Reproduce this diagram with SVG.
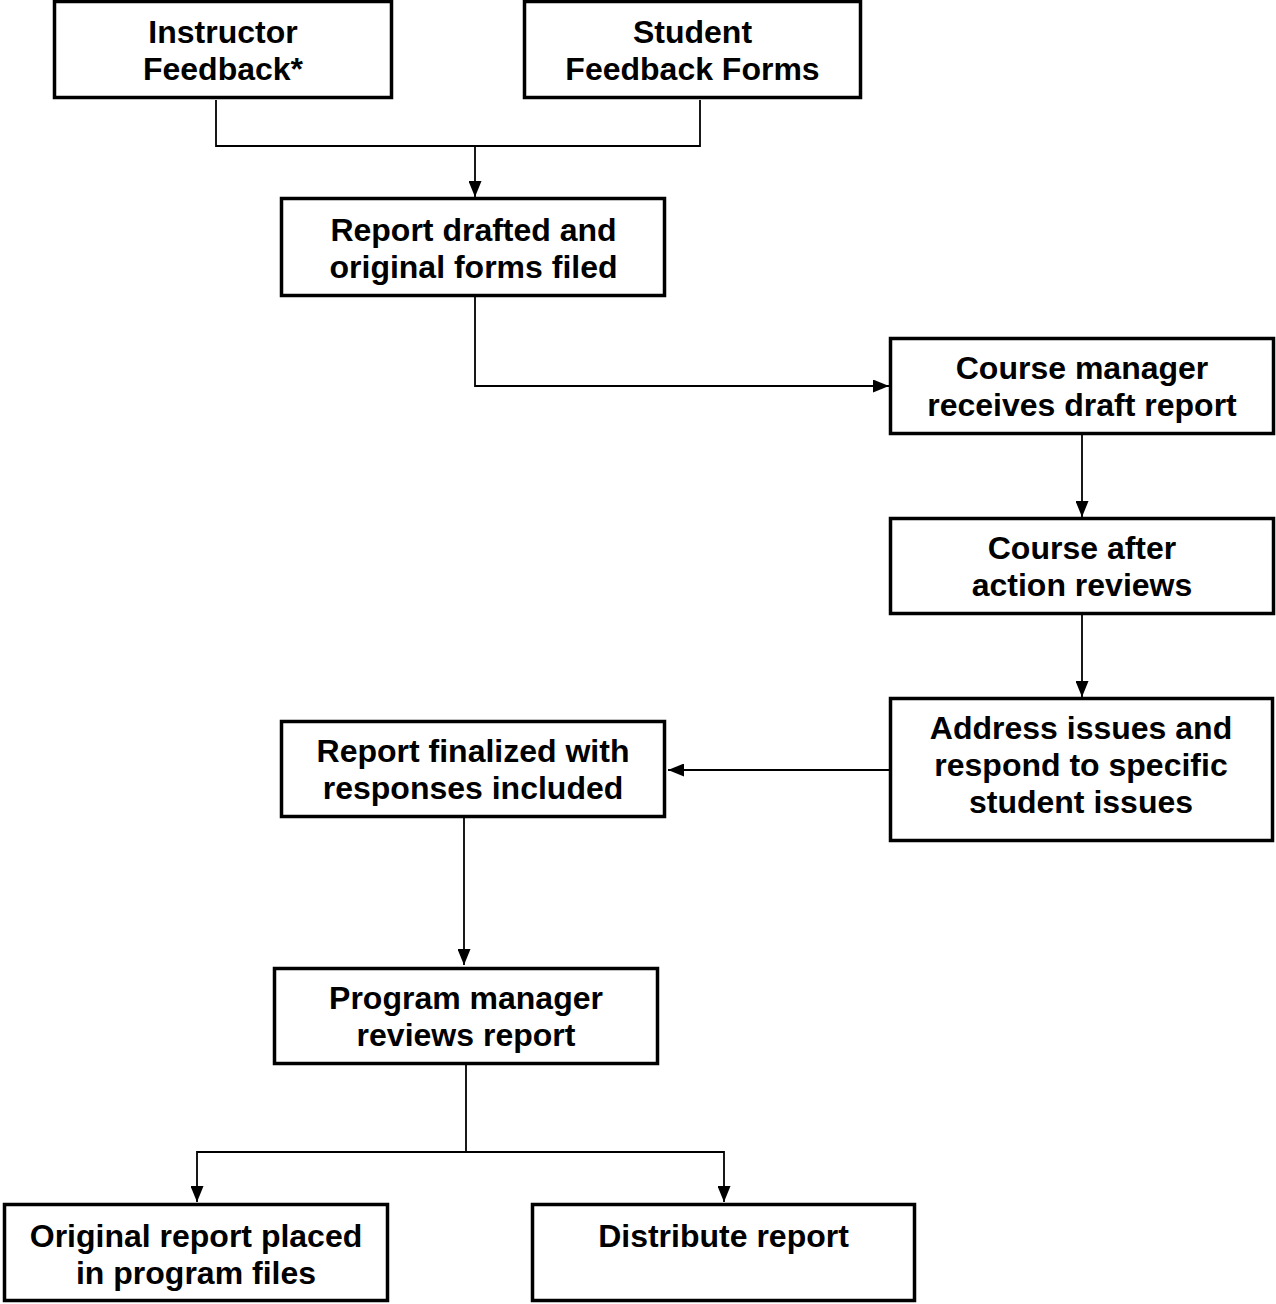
<svg xmlns="http://www.w3.org/2000/svg" width="1276" height="1304" viewBox="0 0 1276 1304">
<style>
.box{fill:#fff;stroke:#000;stroke-width:3.5}
.lbl{font-family:"Liberation Sans",Arial,sans-serif;font-weight:bold;font-size:32px;text-anchor:middle;fill:#000}
.con{fill:none;stroke:#000;stroke-width:1.8}
</style>
<defs>
<marker id="arr" viewBox="0 0 16 13" refX="16" refY="6.5" markerWidth="16" markerHeight="13" markerUnits="userSpaceOnUse" orient="auto">
<path d="M0,0 L16,6.5 L0,13 Z" fill="#000"/>
</marker>
</defs>
<rect width="1276" height="1304" fill="#fff"/>
<g id="connectors">
<path class="con" d="M216,100 V146 H700 V100"/>
<path class="con" d="M475,146 V197" marker-end="url(#arr)"/>
<path class="con" d="M475,297 V386 H889" marker-end="url(#arr)"/>
<path class="con" d="M1082,435 V517" marker-end="url(#arr)"/>
<path class="con" d="M1082,615 V697" marker-end="url(#arr)"/>
<path class="con" d="M889,770 H668" marker-end="url(#arr)"/>
<path class="con" d="M464,818 V965" marker-end="url(#arr)"/>
<path class="con" d="M466,1065 V1152"/>
<path class="con" d="M466,1152 H197 V1202" marker-end="url(#arr)"/>
<path class="con" d="M466,1152 H724 V1202" marker-end="url(#arr)"/>
</g>
<g id="instructor-feedback">
<rect class="box" x="54.5" y="1.5" width="337" height="96"/>
<text class="lbl" x="223" y="43">Instructor</text>
<text class="lbl" x="223" y="80">Feedback*</text>
</g>
<g id="student-feedback">
<rect class="box" x="524.5" y="1.5" width="336" height="96"/>
<text class="lbl" x="692.5" y="43">Student</text>
<text class="lbl" x="692.5" y="80">Feedback Forms</text>
</g>
<g id="report-drafted">
<rect class="box" x="281.5" y="198.5" width="383" height="97"/>
<text class="lbl" x="473.5" y="241">Report drafted and</text>
<text class="lbl" x="473.5" y="278">original forms filed</text>
</g>
<g id="course-manager">
<rect class="box" x="890.5" y="338.5" width="383" height="95"/>
<text class="lbl" x="1082" y="379">Course manager</text>
<text class="lbl" x="1082" y="416">receives draft report</text>
</g>
<g id="course-after">
<rect class="box" x="890.5" y="518.5" width="383" height="95"/>
<text class="lbl" x="1082" y="559">Course after</text>
<text class="lbl" x="1082" y="596">action reviews</text>
</g>
<g id="address-issues">
<rect class="box" x="890.5" y="698.5" width="382" height="142"/>
<text class="lbl" x="1081" y="739">Address issues and</text>
<text class="lbl" x="1081" y="776">respond to specific</text>
<text class="lbl" x="1081" y="813">student issues</text>
</g>
<g id="report-finalized">
<rect class="box" x="281.5" y="721.5" width="383" height="95"/>
<text class="lbl" x="473" y="762">Report finalized with</text>
<text class="lbl" x="473" y="799">responses included</text>
</g>
<g id="program-manager">
<rect class="box" x="274.5" y="968.5" width="383" height="95"/>
<text class="lbl" x="466" y="1009">Program manager</text>
<text class="lbl" x="466" y="1046">reviews report</text>
</g>
<g id="original-report">
<rect class="box" x="4.5" y="1204.5" width="383" height="96"/>
<text class="lbl" x="196" y="1247">Original report placed</text>
<text class="lbl" x="196" y="1284">in program files</text>
</g>
<g id="distribute-report">
<rect class="box" x="532.5" y="1204.5" width="382" height="96"/>
<text class="lbl" x="723.5" y="1247">Distribute report</text>
</g>
</svg>
